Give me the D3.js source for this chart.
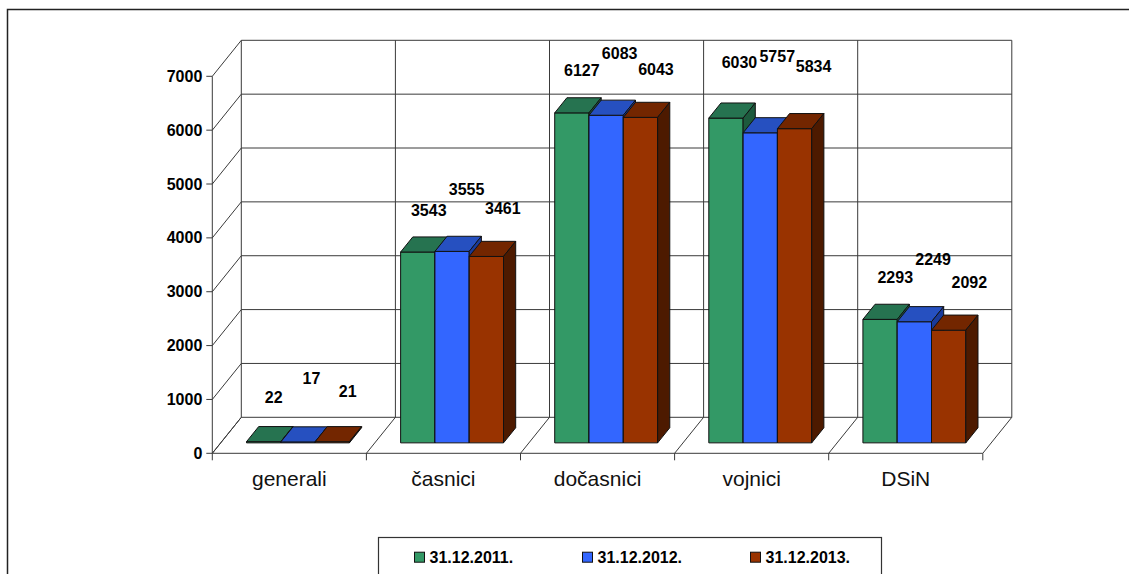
<!DOCTYPE html>
<html><head><meta charset="utf-8">
<script src="https://cdn.jsdelivr.net/npm/d3@7"></script>
<style>body{margin:0;background:#fff;} svg{display:block;font-family:"Liberation Sans",Arial,sans-serif;}</style>
</head><body><svg id="c" width="1129" height="574"></svg>
<script>
const categories = ["generali", "časnici", "dočasnici", "vojnici", "DSiN"];
const seriesNames = ["31.12.2011.", "31.12.2012.", "31.12.2013."];
const values2011 = [22, 3543, 6127, 6030, 2293];
const values2012 = [17, 3555, 6083, 5757, 2249];
const values2013 = [21, 3461, 6043, 5834, 2092];
const yTicks = [0, 1000, 2000, 3000, 4000, 5000, 6000, 7000];

const seriesValues = [values2011, values2012, values2013];
const frontColors = ["#339966", "#3366FF", "#993300"];
const topColors = ["#267350", "#2650C0", "#732600"];
const sideColors = ["#1d5a3d", "#1a3a99", "#4d1a00"];
// label placement tweaks (style constants)
const labelSeriesDx = [12, 15.5, 17.5];
const labelSeriesDy = [-42, -62, -48];
const labelCatDx = [-2, -1, -2, 1.5, 3.2];
const labelCatDy = [-2, 0, 0, -14, 0];

const svg = d3.select("#c");
const ox = 212.3, depthX = 29, depthY = 36, plotW = 770.5;
const f0 = 0.29, f1 = 0.71;
const y = d3.scaleLinear().domain([0, 7000]).range([453.3, 76.3]);
const x0 = d3.scaleBand().domain(categories).range([0, plotW]);
const x1 = d3.scaleBand().domain(seriesNames).range([25.8, 128.7]);
const proj = (x, v, f) => [ox + x + f * depthX, y(v) - f * depthY];
const line = (a, b) => svg.append("line").attr("x1", a[0]).attr("y1", a[1]).attr("x2", b[0]).attr("y2", b[1])
  .attr("stroke", "#3a3a3a").attr("stroke-width", 1);

// outer frame
svg.append("path").attr("d", "M7.5,574 L7.5,9.5 L1129,9.5").attr("fill", "none").attr("stroke", "#222").attr("stroke-width", 1.5);

// gridlines on back wall and left wall
yTicks.forEach(t => {
  line(proj(0, t, 1), proj(plotW, t, 1));
  line(proj(0, t, 0), proj(0, t, 1));
});
// category dividers on back wall and floor
const bounds = d3.range(categories.length + 1).map(i => i * x0.bandwidth());
bounds.forEach(b => {
  line(proj(b, 0, 1), proj(b, 7000, 1));
  line(proj(b, 0, 0), proj(b, 0, 1));
  const p = proj(b, 0, 0);
  line(p, [p[0], p[1] + 7]);
});
// floor front edge & y axis
line(proj(0, 0, 0), proj(plotW, 0, 0));
line(proj(0, 0, 0), proj(0, 7000, 0));
yTicks.forEach(t => {
  const p = proj(0, t, 0);
  line(p, [p[0] - 6, p[1]]);
  svg.append("text").attr("x", p[0] - 10).attr("y", p[1]).attr("dy", "0.35em")
    .attr("text-anchor", "end").attr("font-weight", "bold").attr("font-size", "16px").text(t);
});

// category labels
categories.forEach(c => {
  const p = proj(x0(c) + x0.bandwidth() / 2, 0, 0);
  svg.append("text").attr("x", p[0]).attr("y", 485.5).attr("text-anchor", "middle")
    .attr("font-size", "21px").attr("fill", "#111").text(c);
});

// bars
const poly = (pts, fill) => svg.append("polygon").attr("points", pts.map(p => p.join(",")).join(" "))
  .attr("fill", fill).attr("stroke", "#111").attr("stroke-width", 1).attr("stroke-linejoin", "round");
categories.forEach((c, ci) => {
  seriesNames.forEach((s, si) => {
    const v = seriesValues[si][ci];
    const xl = x0(c) + x1(s), xr = xl + x1.bandwidth();
    poly([proj(xl, 0, f0), proj(xr, 0, f0), proj(xr, v, f0), proj(xl, v, f0)], frontColors[si]);
    poly([proj(xl, v, f0), proj(xr, v, f0), proj(xr, v, f1), proj(xl, v, f1)], topColors[si]);
    poly([proj(xr, 0, f0), proj(xr, v, f0), proj(xr, v, f1), proj(xr, 0, f1)], sideColors[si]);
  });
});
// data labels
categories.forEach((c, ci) => {
  seriesNames.forEach((s, si) => {
    const v = seriesValues[si][ci];
    const p = proj(x0(c) + x1(s) + x1.bandwidth() / 2, v, f0);
    svg.append("text")
      .attr("x", p[0] + labelSeriesDx[si] + labelCatDx[ci])
      .attr("y", p[1] + labelSeriesDy[si] + labelCatDy[ci]).attr("dy", "0.35em")
      .attr("text-anchor", "middle").attr("font-weight", "bold").attr("font-size", "16px").text(v);
  });
});

// legend
svg.append("rect").attr("x", 378.5).attr("y", 537.5).attr("width", 503).attr("height", 60)
  .attr("fill", "#fff").attr("stroke", "#333").attr("stroke-width", 1.2);
seriesNames.forEach((s, si) => {
  const lx = 414 + si * 168;
  svg.append("rect").attr("x", lx + 0.5).attr("y", 552.2).attr("width", 10).attr("height", 10)
    .attr("fill", frontColors[si]).attr("stroke", "#111").attr("stroke-width", 1);
  svg.append("text").attr("x", lx + 15.5).attr("y", 562.5).attr("font-weight", "bold")
    .attr("font-size", "16px").text(s);
});
</script></body></html>
